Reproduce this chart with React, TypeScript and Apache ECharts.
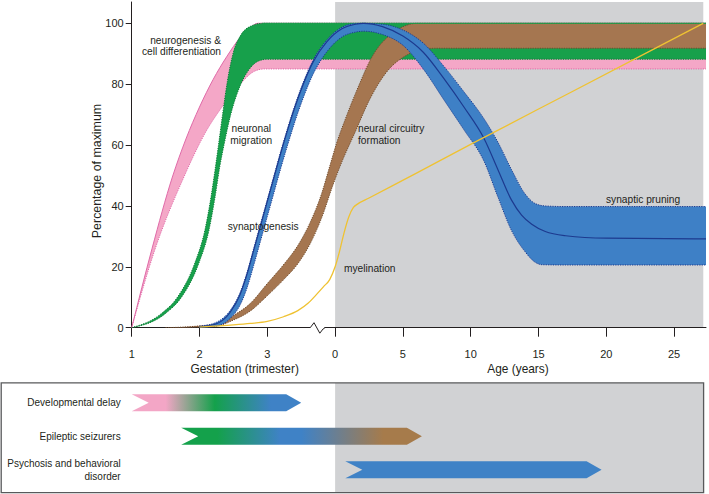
import React, { useEffect, useRef } from 'react';
import * as echarts from 'echarts';

const FONT = "'Liberation Sans', Arial, Helvetica, sans-serif";
const INK = '#231f20';

// ---- axes (one x unit per labelled tick: trimesters 1-3, then age 0..25 years by 5) ----
const xTickValues = [0, 1, 2, 3, 4, 5, 6, 7, 8];
const xTickLabels = ['1', '2', '3', '0', '5', '10', '15', '20', '25'];
const yTickValues = [0, 20, 40, 60, 80, 100];
const X_MAX = 8.47;
const Y_MAX = 107;
const AGE_START = 3;
const AGE_BG_END = 8.43;
const BREAK_AT = 2.73;

// ---- neurogenesis & cell differentiation (pink band) ----
const pinkUpper = [[0, 0], [0.3, 26], [0.6, 49.5], [0.8, 62], [1.0, 72.5], [1.2, 81.5], [1.4, 89], [1.6, 95.3], [1.75, 98.6], [1.86, 100], [2.1, 100], [8.47, 100]];
const pinkLower = [[0, 0], [0.34, 25.5], [0.76, 49], [1.11, 65], [1.3, 71.5], [1.45, 76], [1.62, 80.5], [1.79, 84], [1.95, 85], [2.2, 85], [8.47, 85]];

// ---- neuronal migration (green band) ----
const greenUpper = [[0, 0], [0.44, 4.7], [0.68, 10.2], [0.93, 21.2], [1.08, 32.1], [1.17, 43], [1.23, 52], [1.28, 60], [1.34, 70], [1.41, 80.8], [1.5, 90.5], [1.6, 95.8], [1.75, 99], [1.93, 100], [2.2, 100], [8.47, 100]];
const greenLower = [[0, 0], [0.5, 4.7], [0.74, 10.2], [0.99, 21.2], [1.14, 32.1], [1.23, 43], [1.3, 53], [1.37, 61], [1.46, 70], [1.6, 79.5], [1.73, 84.8], [1.87, 87.6], [2.0, 88.2], [2.2, 88.2], [8.47, 88.2]];

// ---- synaptogenesis / synaptic pruning (blue band + centre line) ----
const blueCenter = [[1.0, 0.3], [1.25, 1.3], [1.45, 5], [1.6, 11], [1.7, 17.5], [1.8, 25.5], [1.9, 33.5], [2.0, 41.5], [2.1, 49.5], [2.2, 57.5], [2.3, 65], [2.4, 72], [2.53, 80], [2.68, 87.5], [2.88, 94], [3.1, 98.2], [3.3, 99.7], [3.42, 100], [3.7, 98.9], [4.0, 95.8], [4.3, 90.5], [4.6, 82], [4.9, 72.5], [5.2, 62], [5.4, 52], [5.6, 42], [5.75, 37], [5.9, 34], [6.1, 31.6], [6.4, 30.2], [7.0, 29.4], [8.47, 29.2]];
const blueUpper = [[1.0, 0.5], [1.25, 1.8], [1.45, 5.6], [1.6, 11.6], [1.7, 18.1], [1.8, 26.1], [1.9, 34.1], [2.0, 42.1], [2.1, 50.1], [2.2, 58.1], [2.3, 65.6], [2.4, 72.6], [2.53, 80.6], [2.68, 88.1], [2.88, 94.6], [3.1, 98.7], [3.3, 99.9], [3.42, 100], [3.7, 99.7], [4.0, 97.8], [4.3, 93.5], [4.6, 86], [4.9, 77.5], [5.2, 68.5], [5.4, 61], [5.6, 52], [5.8, 44], [5.95, 40.8], [6.1, 40], [6.4, 39.8], [8.47, 39.8]];
const blueLower = [[1.0, 0], [1.25, 0.5], [1.45, 3], [1.6, 7.5], [1.7, 13], [1.8, 20.5], [1.9, 28.5], [2.0, 36.5], [2.1, 44.5], [2.2, 52.5], [2.3, 60], [2.4, 67.2], [2.53, 75.5], [2.68, 83.5], [2.88, 90.7], [3.1, 95.5], [3.3, 97.1], [3.42, 97.4], [3.7, 96.3], [4.0, 92.8], [4.3, 85], [4.6, 75], [4.9, 65], [5.2, 54.5], [5.4, 43], [5.6, 32], [5.8, 25], [5.95, 21.5], [6.05, 20.7], [6.4, 20.6], [8.47, 20.6]];

// ---- neural circuitry formation (brown band) ----
const brownUpper = [[0.5, 0], [1.0, 0.6], [1.3, 1.5], [1.5, 4], [1.75, 8], [2.0, 14.5], [2.25, 21], [2.45, 27], [2.63, 34.5], [2.8, 44], [2.92, 53], [3.02, 60.5], [3.15, 68.5], [3.32, 78], [3.56, 89.6], [3.81, 96.2], [4.06, 99.4], [4.2, 100], [4.5, 100], [8.47, 100]];
const brownLower = [[0.5, 0], [1.0, 0.2], [1.3, 0.8], [1.5, 2.5], [1.75, 5.5], [2.0, 10.5], [2.25, 16], [2.45, 21], [2.63, 27.5], [2.8, 36], [2.97, 47], [3.1, 54.5], [3.29, 64], [3.51, 75], [3.76, 84], [4.06, 89.6], [4.3, 91.6], [4.5, 91.8], [8.47, 91.8]];

// ---- myelination (yellow line) ----
const myelination = [[1.0, 0.2], [1.5, 0.9], [1.75, 1.4], [2.0, 2.1], [2.24, 3.6], [2.45, 5.6], [2.6, 8], [2.72, 10.8], [2.83, 13.5], [2.92, 15.8], [3.0, 20], [3.07, 25.5], [3.13, 31], [3.2, 36.3], [3.27, 39.5], [3.33, 40.6], [3.5, 42.6], [4.2, 50.8], [5.04, 60.7], [6.5, 77.6], [7.5, 89.2], [8.43, 100]];

// ---- clinical windows (lower panel) ----
const disorderLabels = ['Developmental delay', 'Epileptic seizurers', 'Psychosis and behavioral\ndisorder'];
const disorderStart = [0, 0.73, 3.15];
const disorderEnd = [2.5, 4.28, 6.93];

// ---- colours ----
const C_PINK = '#f4a7c7';
const C_PINK_EDGE = '#df6aa8';
const C_GREEN = '#17a04b';
const C_GREEN_EDGE = '#0c7a36';
const C_BLUE = '#3e80c6';
const C_NAVY = '#1d3a8f';
const C_BROWN = '#a57650';
const C_BROWN_EDGE = '#6e4a2c';
const C_YELLOW = '#efc232';
const C_GRAY = '#d1d2d4';

const arrowStops = [
  [[0, '#f3a6c6'], [0.2, '#f3a6c6'], [0.49, '#14a14b'], [0.82, '#3f82c6'], [1, '#3f82c6']],
  [[0, '#14a14b'], [0.15, '#14a14b'], [0.41, '#3f82c6'], [0.5, '#3f82c6'], [0.84, '#a67b4b'], [1, '#a67b4b']],
  [[0, '#3f82c6'], [1, '#3f82c6']],
];

// ---- monotone cubic drawing of pixel point lists (x increasing) ----
function tangents(pts: number[][]) {
  const n = pts.length;
  const dx: number[] = [];
  const d: number[] = [];
  for (let i = 0; i < n - 1; i++) {
    dx[i] = pts[i + 1][0] - pts[i][0];
    d[i] = dx[i] === 0 ? 0 : (pts[i + 1][1] - pts[i][1]) / dx[i];
  }
  const m: number[] = new Array(n).fill(0);
  for (let i = 1; i < n - 1; i++) {
    if (d[i - 1] * d[i] <= 0) m[i] = 0;
    else {
      const p = (d[i - 1] * dx[i] + d[i] * dx[i - 1]) / (dx[i - 1] + dx[i]);
      m[i] = (Math.sign(d[i - 1]) + Math.sign(d[i])) * Math.min(Math.abs(d[i - 1]), Math.abs(d[i]), 0.5 * Math.abs(p));
    }
  }
  if (n > 2) {
    m[0] = (3 * d[0] - m[1]) / 2;
    m[n - 1] = (3 * d[n - 2] - m[n - 2]) / 2;
    if (m[0] * d[0] < 0) m[0] = 0;
    if (m[n - 1] * d[n - 2] < 0) m[n - 1] = 0;
  } else if (n === 2) {
    m[0] = d[0];
    m[1] = d[0];
  }
  return { dx, m };
}

function traceForward(ctx: any, pts: number[][]) {
  const { dx, m } = tangents(pts);
  for (let i = 0; i < pts.length - 1; i++) {
    const h = dx[i] / 3;
    ctx.bezierCurveTo(pts[i][0] + h, pts[i][1] + m[i] * h, pts[i + 1][0] - h, pts[i + 1][1] - m[i + 1] * h, pts[i + 1][0], pts[i + 1][1]);
  }
}

function traceBackward(ctx: any, pts: number[][]) {
  const { dx, m } = tangents(pts);
  for (let i = pts.length - 2; i >= 0; i--) {
    const h = dx[i] / 3;
    ctx.bezierCurveTo(pts[i + 1][0] - h, pts[i + 1][1] - m[i + 1] * h, pts[i][0] + h, pts[i][1] + m[i] * h, pts[i][0], pts[i][1]);
  }
}

echarts.graphic.registerShape(
  'bandArea',
  echarts.graphic.extendShape({
    shape: { up: [] as number[][], lo: [] as number[][] },
    buildPath(ctx: any, shape: any) {
      const up = shape.up;
      const lo = shape.lo;
      if (!up.length || !lo.length) return;
      ctx.moveTo(up[0][0], up[0][1]);
      traceForward(ctx, up);
      ctx.lineTo(lo[lo.length - 1][0], lo[lo.length - 1][1]);
      traceBackward(ctx, lo);
      ctx.closePath();
    },
  }) as any
);

echarts.graphic.registerShape(
  'smoothCurve',
  echarts.graphic.extendShape({
    shape: { pts: [] as number[][] },
    buildPath(ctx: any, shape: any) {
      const pts = shape.pts;
      if (!pts.length) return;
      ctx.moveTo(pts[0][0], pts[0][1]);
      traceForward(ctx, pts);
    },
  }) as any
);

const DOT = [1.2, 1.2];

function bandSeries(id: string, upper: number[][], lower: number[][], fill: string, edge: string, opts: any = {}) {
  return {
    type: 'custom',
    id,
    coordinateSystem: 'cartesian2d',
    xAxisIndex: 0,
    yAxisIndex: 0,
    clip: true,
    silent: true,
    data: [upper[0]],
    renderItem: (params: any, api: any) => {
      const up = upper.map((p) => api.coord(p));
      const lo = lower.map((p) => api.coord(p));
      const children: any[] = [
        { type: 'bandArea', shape: { up, lo }, style: { fill, stroke: null } },
        { type: 'smoothCurve', shape: { pts: lo }, style: { fill: null, stroke: edge, lineWidth: 1, lineDash: DOT } },
        { type: 'smoothCurve', shape: { pts: up }, style: { fill: null, stroke: edge, lineWidth: 1, lineDash: opts.upperSolid ? null : DOT } },
      ];
      if (opts.center) {
        const ce = opts.center.map((p: number[]) => api.coord(p));
        children.push({ type: 'smoothCurve', shape: { pts: ce }, style: { fill: null, stroke: C_NAVY, lineWidth: 1.2 } });
      }
      return { type: 'group', children };
    },
  };
}

function txt(text: string, x: number, y: number, align: string, extra: any = {}) {
  return {
    type: 'text',
    x,
    y,
    z: 50,
    silent: true,
    style: { text, fill: INK, fontSize: 10.2, fontFamily: FONT, align, verticalAlign: 'middle', lineHeight: 12, ...extra },
  };
}

export default function App() {
  const ref = useRef<HTMLDivElement>(null);
  useEffect(() => {
    const chart = echarts.init(ref.current!, null, { renderer: 'svg' });
    const greenTop = greenUpper.filter((p) => p[1] >= 100);
    const option: any = {
      animation: false,
      backgroundColor: '#ffffff',
      grid: [
        { left: 131.7, right: 3, top: 2, bottom: 166.3, outerBoundsMode: 'none' },
        { left: 131.7, right: 3, top: 383, height: 110, outerBoundsMode: 'none' },
      ],
      xAxis: [
        {
          type: 'value', gridIndex: 0, min: 0, max: X_MAX,
          axisLine: { show: true, onZero: false, lineStyle: { color: INK, width: 1 } },
          axisTick: { show: true, length: 9, customValues: xTickValues, lineStyle: { color: INK, width: 1 } },
          axisLabel: { customValues: xTickValues, formatter: (v: number) => xTickLabels[Math.round(v)] ?? '', color: INK, fontSize: 11, fontFamily: FONT, margin: 21 },
          splitLine: { show: false },
        },
        { type: 'value', gridIndex: 1, min: 0, max: X_MAX, show: false },
      ],
      yAxis: [
        {
          type: 'value', gridIndex: 0, min: 0, max: Y_MAX,
          axisLine: { show: true, onZero: false, lineStyle: { color: INK, width: 1 } },
          axisTick: { show: true, length: 6, customValues: yTickValues, lineStyle: { color: INK, width: 1 } },
          axisLabel: { customValues: yTickValues, color: INK, fontSize: 11, fontFamily: FONT, margin: 8 },
          splitLine: { show: false },
        },
        { type: 'value', gridIndex: 1, min: -0.588, max: 2.696, inverse: true, show: false },
      ],
      graphic: [
        txt('neurogenesis &\ncell differentiation', 221, 46, 'right', { lineHeight: 11.7 }),
        txt('neuronal\nmigration', 251.3, 134.3, 'center'),
        txt('synaptogenesis', 227.7, 226.7, 'left'),
        txt('neural circuitry\nformation', 358, 134.2, 'left', { lineHeight: 11.7 }),
        txt('myelination', 344, 268.3, 'left'),
        txt('synaptic pruning', 606, 199, 'left'),
        txt('Gestation (trimester)', 244.7, 369, 'center', { fontSize: 11.9 }),
        txt('Age (years)', 518, 369, 'center', { fontSize: 11.9 }),
        {
          type: 'text', x: 97, y: 171, rotation: Math.PI / 2, z: 50, silent: true,
          style: { text: 'Percentage of maximum', fill: INK, fontSize: 12.4, fontFamily: FONT, align: 'center', verticalAlign: 'middle' },
        },
        {
          type: 'rect', z: 100, silent: true,
          shape: { x: 1.2, y: 382.8, width: 702.4, height: 109.8 },
          style: { fill: 'none', stroke: '#58595b', lineWidth: 1.3 },
        },
      ],
      series: [
        {
          type: 'custom', id: 'ageBg', coordinateSystem: 'cartesian2d', xAxisIndex: 0, yAxisIndex: 0, silent: true, clip: false,
          data: [[AGE_START, 0]],
          renderItem: (params: any, api: any) => {
            const a = api.coord([AGE_START, Y_MAX]);
            const b = api.coord([AGE_BG_END, 0]);
            return { type: 'rect', shape: { x: a[0], y: a[1], width: b[0] - a[0], height: b[1] - a[1] - 0.6 }, style: { fill: C_GRAY } };
          },
        },
        bandSeries('neurogenesis', pinkUpper, pinkLower, C_PINK, C_PINK_EDGE, { upperSolid: true }),
        bandSeries('migration', greenUpper, greenLower, C_GREEN, C_GREEN_EDGE),
        bandSeries('circuitry', brownUpper, brownLower, C_BROWN, C_BROWN_EDGE),
        {
          type: 'custom', id: 'migrationTop', coordinateSystem: 'cartesian2d', xAxisIndex: 0, yAxisIndex: 0, silent: true, clip: true,
          data: [greenTop[0]],
          renderItem: (params: any, api: any) => ({
            type: 'polyline',
            shape: { points: greenTop.map((p) => api.coord(p)) },
            style: { fill: 'none', stroke: C_GREEN, lineWidth: 1 },
          }),
        },
        bandSeries('synapses', blueUpper, blueLower, C_BLUE, C_NAVY, { center: blueCenter }),
        {
          type: 'custom', id: 'myelination', coordinateSystem: 'cartesian2d', xAxisIndex: 0, yAxisIndex: 0, silent: true, clip: true,
          data: [myelination[0]],
          renderItem: (params: any, api: any) => ({
            type: 'smoothCurve',
            shape: { pts: myelination.map((p) => api.coord(p)) },
            style: { fill: null, stroke: C_YELLOW, lineWidth: 1.3 },
          }),
        },
        {
          type: 'custom', id: 'axisBreak', coordinateSystem: 'cartesian2d', xAxisIndex: 0, yAxisIndex: 0, silent: true, clip: false,
          data: [[BREAK_AT, 0]],
          renderItem: (params: any, api: any) => {
            const p = api.coord([BREAK_AT, 0]);
            return {
              type: 'group',
              children: [
                { type: 'rect', shape: { x: p[0] - 6.5, y: p[1] - 1.5, width: 14, height: 3 }, style: { fill: '#ffffff' } },
                {
                  type: 'polyline',
                  shape: { points: [[p[0] - 6.6, p[1]], [p[0] - 2.8, p[1] - 5], [p[0] + 3, p[1] + 5.5], [p[0] + 6.3, p[1] + 1.2], [p[0] + 7.8, p[1] + 0.6]] },
                  style: { fill: 'none', stroke: INK, lineWidth: 1 },
                },
              ],
            };
          },
        },
        {
          type: 'custom', id: 'lowerBg', coordinateSystem: 'cartesian2d', xAxisIndex: 1, yAxisIndex: 1, silent: true, clip: false,
          data: [[AGE_START, 0]],
          renderItem: (params: any, api: any) => {
            const cs = params.coordSys;
            const x0 = api.coord([AGE_START, 0])[0];
            const x1 = api.coord([AGE_BG_END, 0])[0];
            return { type: 'rect', shape: { x: x0, y: cs.y, width: x1 - x0, height: cs.height }, style: { fill: C_GRAY } };
          },
        },
        {
          type: 'custom', id: 'disorders', coordinateSystem: 'cartesian2d', xAxisIndex: 1, yAxisIndex: 1, silent: true, clip: false,
          data: disorderLabels.map((_, i) => [disorderStart[i], disorderEnd[i], i]),
          encode: { x: [0, 1], y: 2 },
          renderItem: (params: any, api: any) => {
            const i = params.dataIndex;
            const s = api.coord([api.value(0), api.value(2)]);
            const e = api.coord([api.value(1), api.value(2)]);
            const h = 17;
            const notch = 17;
            const head = 15;
            const y = s[1];
            const pts = [
              [s[0], y - h / 2], [e[0] - head, y - h / 2], [e[0], y], [e[0] - head, y + h / 2], [s[0], y + h / 2], [s[0] + notch, y],
            ];
            const stops = arrowStops[i].map((st: any) => ({ offset: st[0], color: st[1] }));
            return {
              type: 'group',
              children: [
                { type: 'polygon', shape: { points: pts }, style: { fill: new echarts.graphic.LinearGradient(0, 0, 1, 0, stops) } },
                {
                  type: 'text', x: params.coordSys.x - 11, y,
                  style: { text: disorderLabels[i], fill: INK, fontSize: 10, fontFamily: FONT, align: 'right', verticalAlign: 'middle', lineHeight: 13 },
                },
              ],
            };
          },
        },
      ],
    };
    chart.setOption(option);
    return () => chart.dispose();
  }, []);
  return <div ref={ref} style={{ position: 'absolute', left: 0, top: 0, width: 709, height: 494, background: '#fff' }} />;
}
